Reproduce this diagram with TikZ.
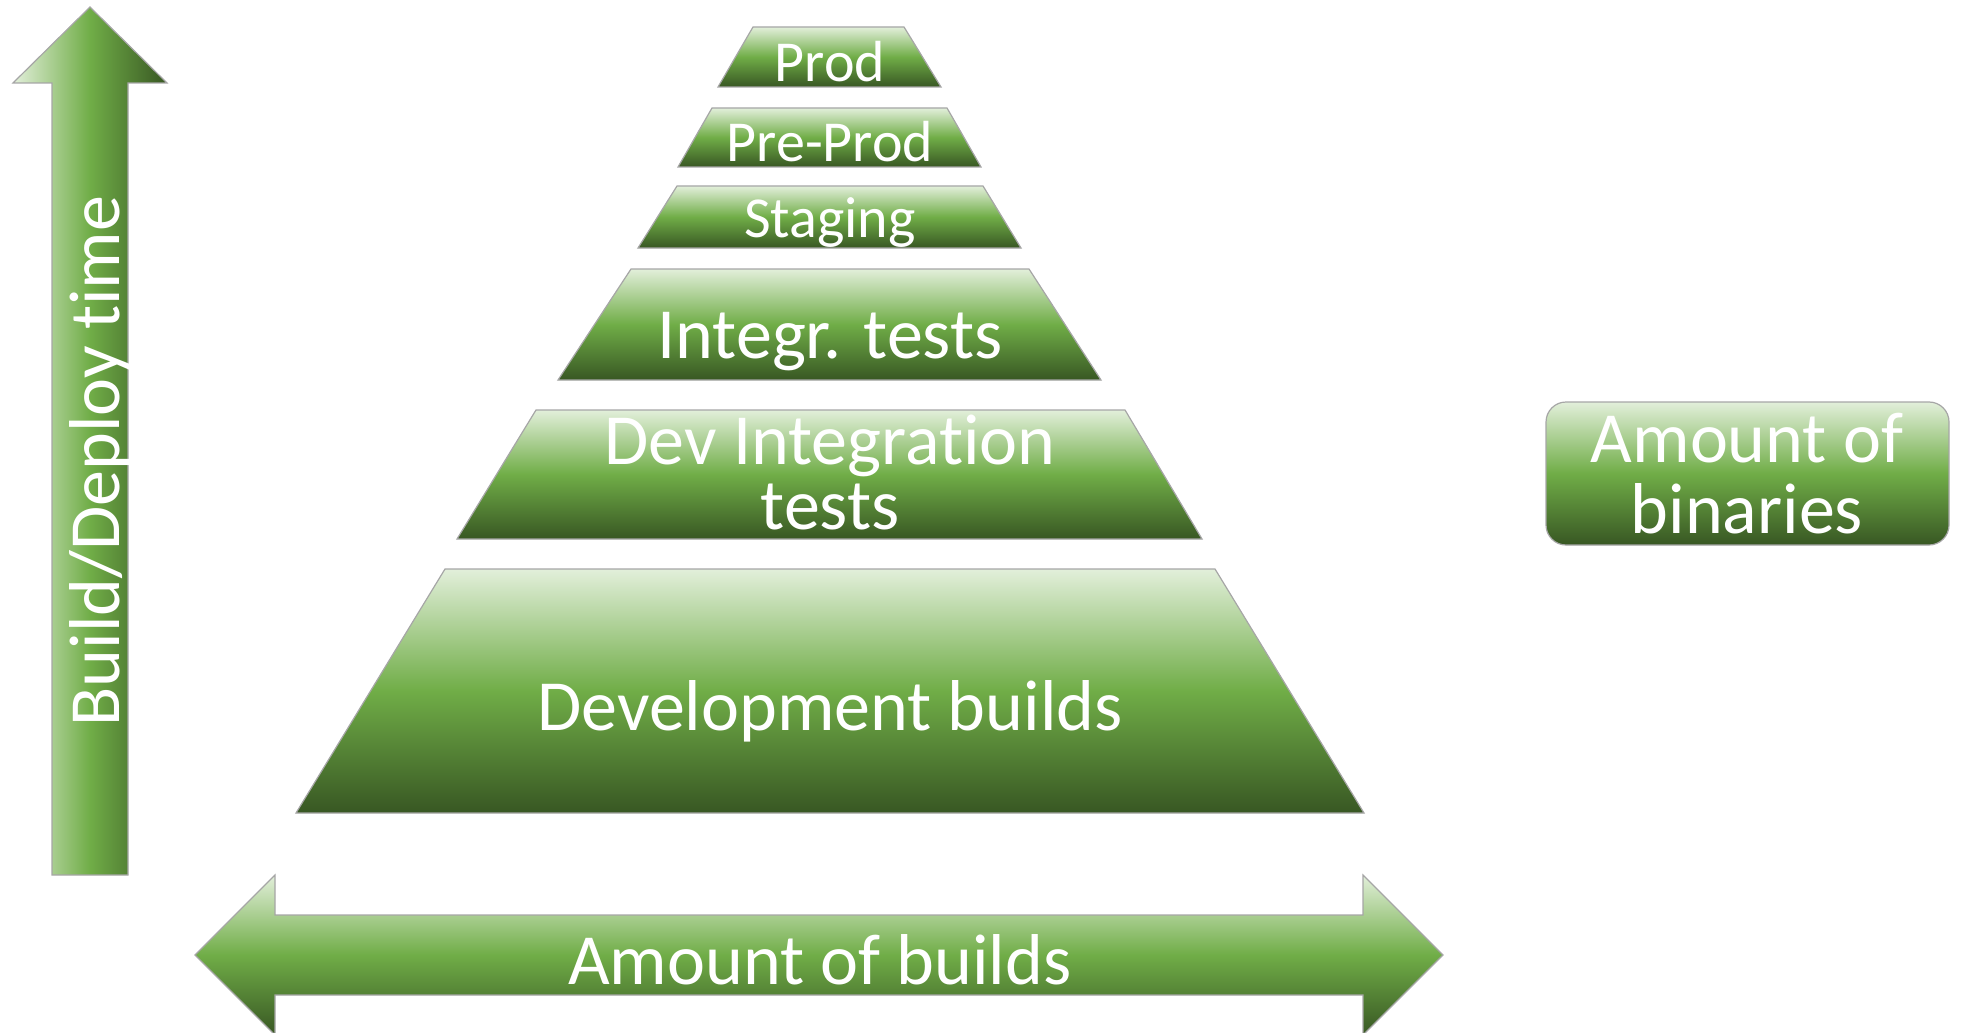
\documentclass[tikz,border=0pt]{standalone}
\usepackage{fontspec}
\setmainfont[Ligatures=NoCommon]{Carlito}
\definecolor{gLight}{HTML}{E2EFDA}
\definecolor{gMid}{HTML}{70AD47}
\definecolor{gDark}{HTML}{385723}
\definecolor{gEdge}{HTML}{A6A6A6}
\begin{document}
\begin{tikzpicture}[x=0.5pt,y=0.5pt,yscale=-1,
  vgrad/.style={draw=gEdge,line width=0.6pt,top color=gLight,bottom color=gDark,middle color=gMid},
  hgrad/.style={draw=gEdge,line width=0.6pt,left color=gLight,right color=gDark,middle color=gMid},
  bigtxt/.style={text=white,anchor=base,inner sep=0pt,font=\fontsize{36}{40}\selectfont},
  smalltxt/.style={text=white,anchor=base,inner sep=0pt,font=\fontsize{29}{32}\selectfont}]
	\useasboundingbox (0,0) rectangle (1962,1032);
	%Shape: Up Arrow
	\draw[hgrad] (90,7) -- (167,83) -- (128,83) -- (128,875) -- (52,875) -- (52,83) -- (13,83) -- cycle ;
	%Shape: Trapezoid (Prod)
	\draw[vgrad] (753,27) -- (904,27) -- (941,87) -- (718,87) -- cycle ;
	%Shape: Trapezoid (Pre-Prod)
	\draw[vgrad] (712,108) -- (947,108) -- (981,167) -- (678,167) -- cycle ;
	%Shape: Trapezoid (Staging)
	\draw[vgrad] (677,186) -- (983,186) -- (1021,248) -- (638,248) -- cycle ;
	%Shape: Trapezoid (Integr. tests)
	\draw[vgrad] (631,269) -- (1029,269) -- (1101,380) -- (558,380) -- cycle ;
	%Shape: Trapezoid (Dev Integration tests)
	\draw[vgrad] (536,410) -- (1125,410) -- (1202,539) -- (457,539) -- cycle ;
	%Shape: Trapezoid (Development builds)
	\draw[vgrad] (445,569) -- (1215,569) -- (1364,813) -- (296,813) -- cycle ;
	%Shape: Left-Right Arrow
	\draw[vgrad] (195,955) -- (275,875) -- (275,915) -- (1363,915) -- (1363,875) -- (1443,955) -- (1363,1035) -- (1363,995) -- (275,995) -- (275,1035) -- cycle ;
	%Shape: Rounded Rectangle
	\draw[vgrad,rounded corners=10pt] (1546,402) rectangle (1949,545) ;
	% labels
	\node[bigtxt,rotate=90] (buildtime) at (119,461) {Build/Deploy time};
	\node[smalltxt] (prod) at (830,82) {Prod};
	\node[smalltxt] (preprod) at (830,162) {Pre-Prod};
	\node[smalltxt] (staging) at (830,237) {Staging};
	\node[bigtxt] (integr) at (830,358) {Integr. tests};
	\node[bigtxt,align=center,font=\fontsize{36}{32.5}\selectfont] (devinteg) at (830,529) {Dev Integration\\tests};
	\node[bigtxt] (devbuilds) at (830,730) {Development builds};
	\node[bigtxt] (nbuilds) at (820,984) {Amount of builds};
	\node[bigtxt,align=center,font=\fontsize{36}{35.5}\selectfont] (nbin) at (1747,533) {Amount of\\binaries};
\end{tikzpicture}
\end{document}
